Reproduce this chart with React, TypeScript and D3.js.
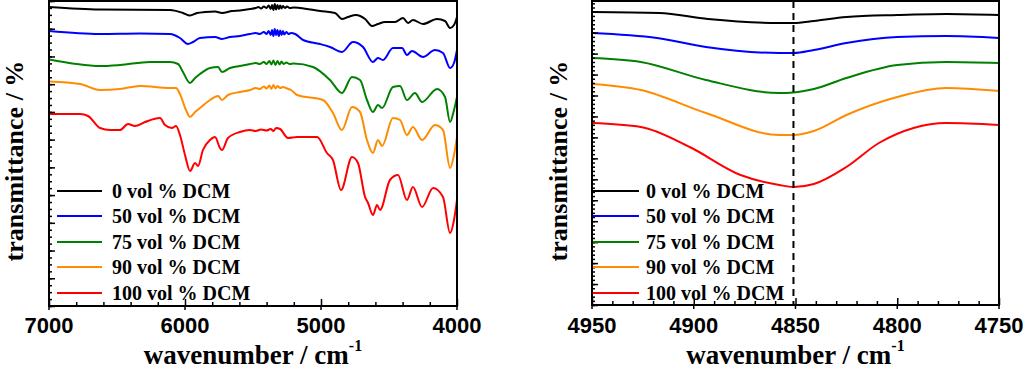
import React, { useRef, useEffect } from 'react';
import * as d3 from 'd3';

// legend + colours
const seriesLabels = ['0 vol % DCM', '50 vol % DCM', '75 vol % DCM', '90 vol % DCM', '100 vol % DCM'];
const seriesColors = ['#000000', '#0000ff', '#008000', '#ff8c00', '#ff0000'];

// full range spectra [wavenumber, offset transmittance]
const wideBlack: [number, number][] = [
  [7000, 299], [6625, 296.5], [6110, 296], [6015, 293], [5963, 290.5], [5912, 293], [5853, 294],
  [5779, 294.5], [5728, 293], [5654, 295], [5596, 295.5], [5522, 297],
  [5480, 298], [5460, 299], [5440, 297.5], [5420, 299.5], [5400, 298], [5385, 300.5], [5370, 297],
  [5360, 301], [5350, 296], [5340, 302], [5330, 296.5], [5320, 301], [5310, 297], [5300, 300.5],
  [5290, 297.5], [5280, 300], [5265, 298], [5250, 299.5], [5230, 298], [5200, 298.5],
  [5154, 298], [5007, 295], [4897, 293], [4846, 287], [4801, 289], [4743, 291], [4676, 287],
  [4625, 280], [4581, 282], [4529, 284], [4456, 284], [4397, 288], [4360, 283], [4324, 286],
  [4250, 282], [4147, 287], [4088, 285], [4051, 278], [4022, 281], [4000, 289],
];
const wideBlue: [number, number][] = [
  [7000, 275], [6625, 272], [6331, 272.5], [6110, 272], [6037, 268], [5978, 262], [5941, 264],
  [5890, 268], [5779, 269], [5728, 267], [5669, 269], [5596, 270], [5522, 272],
  [5480, 273], [5450, 272], [5420, 274], [5400, 272], [5385, 275], [5370, 271], [5360, 276],
  [5350, 270], [5340, 277], [5330, 271], [5320, 276], [5310, 270], [5300, 275.5], [5290, 271],
  [5280, 275], [5270, 271.5], [5255, 274], [5240, 272], [5220, 273], [5190, 272],
  [5132, 266], [5007, 262], [4934, 259], [4846, 254], [4765, 264], [4691, 259], [4618, 244],
  [4581, 248], [4544, 246], [4471, 258], [4404, 258], [4368, 251], [4331, 255], [4250, 249],
  [4162, 256], [4103, 253], [4051, 238], [4022, 243], [4000, 256],
];
const wideGreen: [number, number][] = [
  [7000, 246.5], [6625, 240], [6478, 241], [6257, 244], [6110, 244], [6051, 242], [6015, 234],
  [5963, 223], [5926, 228], [5890, 232], [5816, 238], [5757, 239], [5728, 234], [5669, 238],
  [5596, 240], [5520, 242], [5480, 243], [5450, 242], [5420, 244], [5400, 242], [5380, 245],
  [5365, 241.5], [5350, 245.5], [5335, 241], [5320, 245], [5305, 241.5], [5290, 244.5],
  [5275, 242], [5255, 243.5], [5230, 242], [5200, 242.5],
  [5059, 239], [4934, 226], [4846, 213], [4772, 229], [4713, 226], [4662, 206], [4618, 194],
  [4581, 201], [4551, 198], [4471, 219], [4419, 220], [4368, 206], [4309, 213], [4257, 204],
  [4147, 217], [4088, 209], [4051, 184], [4022, 196], [4000, 209],
];
const wideOrange: [number, number][] = [
  [7000, 224.5], [6772, 222], [6625, 216], [6478, 217], [6331, 220], [6110, 218], [6066, 218],
  [6037, 212], [5993, 196], [5963, 189], [5926, 194], [5890, 198], [5816, 206], [5757, 210],
  [5728, 206], [5684, 211], [5596, 214], [5520, 216], [5480, 218], [5450, 217], [5420, 219.5],
  [5400, 217.5], [5380, 220.5], [5365, 217], [5350, 221], [5335, 217.5], [5320, 220],
  [5300, 218], [5280, 219], [5250, 217.5], [5220, 216],
  [5176, 211], [4985, 206], [4912, 193], [4846, 176], [4772, 199], [4713, 194], [4662, 166],
  [4618, 153], [4581, 166], [4551, 160], [4471, 188], [4419, 186], [4368, 171], [4324, 179],
  [4257, 166], [4162, 181], [4103, 176], [4051, 138], [4022, 151], [4000, 169],
];
const wideRed: [number, number][] = [
  [7000, 192], [6772, 192], [6713, 190], [6625, 178], [6551, 176], [6478, 176], [6419, 182],
  [6368, 180], [6294, 184], [6184, 188], [6147, 181], [6096, 178], [6066, 180], [6037, 171],
  [6000, 151], [5963, 135], [5926, 143], [5904, 140], [5868, 156], [5816, 166], [5779, 169],
  [5743, 158], [5728, 156], [5684, 168], [5596, 174], [5522, 176],
  [5480, 175], [5440, 176.5], [5400, 175.5], [5370, 177], [5350, 175], [5330, 178], [5301, 177],
  [5243, 168], [5176, 169], [5029, 169], [4956, 153], [4912, 146], [4853, 116], [4772, 149],
  [4728, 143], [4676, 109], [4654, 103], [4618, 91], [4588, 101], [4566, 96], [4493, 126],
  [4434, 131], [4368, 106], [4324, 119], [4257, 99], [4176, 118], [4103, 109], [4051, 73],
  [4022, 86], [4000, 106],
];

// zoomed region around the 4850 band
const zoomBlack: [number, number][] = [
  [4950, 293], [4917, 292], [4893, 286], [4858, 282], [4851, 282], [4841, 284], [4825, 288],
  [4800, 290], [4776, 291], [4750, 290],
];
const zoomBlue: [number, number][] = [
  [4950, 272], [4918, 267], [4894, 258], [4858, 252], [4851, 252], [4841, 255], [4825, 262],
  [4800, 268], [4776, 269], [4750, 267],
];
const zoomGreen: [number, number][] = [
  [4950, 247], [4926, 243], [4894, 225], [4858, 212], [4851, 212.5], [4841, 216], [4825, 227],
  [4800, 240], [4776, 243], [4750, 242],
];
const zoomOrange: [number, number][] = [
  [4950, 221], [4926, 215], [4894, 192], [4858, 170], [4851, 170], [4841, 174], [4825, 190],
  [4800, 208], [4776, 217], [4750, 214],
];
const zoomRed: [number, number][] = [
  [4950, 182], [4926, 178], [4902, 158], [4877, 130], [4858, 120], [4851, 118], [4841, 121],
  [4825, 138], [4809, 162], [4792, 177], [4776, 182], [4750, 180],
];

const wideSeries = [wideBlack, wideBlue, wideGreen, wideOrange, wideRed];
const zoomSeries = [zoomBlack, zoomBlue, zoomGreen, zoomOrange, zoomRed];

const wideTicks = [7000, 6000, 5000, 4000];
const zoomTicks = [4950, 4900, 4850, 4800, 4750];
const bandPosition = 4851;

const serif = '"Liberation Serif", "Times New Roman", serif';
const sans = '"Liberation Sans", Arial, sans-serif';

type Panel = {
  id: string;
  left: number;
  right: number;
  top: number;
  bottom: number;
  xDomain: [number, number];
  yMax: number;
  yStep: number;
  ySub: number;
  xMinor: number;
  ticks: number[];
  series: [number, number][][];
  legendLine: [number, number];
  legendText: number;
  yTitleX: number;
  band?: number;
};

const panels: Panel[] = [
  {
    id: 'wide', left: 49, right: 457, top: 1, bottom: 306,
    xDomain: [7000, 4000], yMax: 305, yStep: 305 / 11, ySub: 4, xMinor: 200,
    ticks: wideTicks, series: wideSeries, legendLine: [57, 102], legendText: 112, yTitleX: 23,
  },
  {
    id: 'zoom', left: 592, right: 999, top: 1, bottom: 305,
    xDomain: [4950, 4750], yMax: 304, yStep: 20.95, ySub: 5, xMinor: 10,
    ticks: zoomTicks, series: zoomSeries, legendLine: [593, 639], legendText: 646, yTitleX: 567,
    band: bandPosition,
  },
];

const legendRows = [191, 216, 242, 267, 293];

const App = () => {
  const svgRef = useRef<SVGSVGElement>(null);

  useEffect(() => {
    const svg = d3.select(svgRef.current);
    svg.selectAll('*').remove();

    panels.forEach(p => {
      const x = d3.scaleLinear().domain(p.xDomain).range([p.left, p.right]);
      const y = d3.scaleLinear().domain([0, p.yMax]).range([p.bottom, p.top]);
      const g = svg.append('g');

      g.append('clipPath').attr('id', `clip-${p.id}`)
        .append('rect')
        .attr('x', p.left).attr('y', p.top)
        .attr('width', p.right - p.left).attr('height', p.bottom - p.top);

      // spectra
      const line = d3.line<[number, number]>()
        .x(d => x(d[0]))
        .y(d => y(d[1]))
        .curve(d3.curveMonotoneX);

      g.append('g').attr('clip-path', `url(#clip-${p.id})`)
        .selectAll('path')
        .data(p.series)
        .enter().append('path')
        .attr('d', d => line(d))
        .attr('fill', 'none')
        .attr('stroke', (_, i) => seriesColors[i])
        .attr('stroke-width', 2)
        .attr('stroke-linejoin', 'round');

      if (p.band !== undefined) {
        g.append('line')
          .attr('x1', x(p.band)).attr('x2', x(p.band))
          .attr('y1', p.top).attr('y2', p.bottom)
          .attr('stroke', '#000').attr('stroke-width', 2)
          .attr('stroke-dasharray', '7,5');
      }

      // minor / major ticks, pointing inward
      const [xa, xb] = p.xDomain;
      const xMinorTicks = d3.range(Math.min(xa, xb), Math.max(xa, xb) + 0.01, p.xMinor)
        .filter(v => !p.ticks.includes(v));
      g.append('g')
        .attr('transform', `translate(0,${p.bottom})`)
        .call(d3.axisBottom(x).tickValues(xMinorTicks).tickSize(-4).tickFormat(() => ''))
        .call(a => a.select('.domain').remove());
      g.append('g')
        .attr('transform', `translate(0,${p.bottom})`)
        .call(d3.axisBottom(x).tickValues(p.ticks).tickSizeInner(-7).tickSizeOuter(0).tickFormat(() => ''))
        .call(a => a.select('.domain').remove());
      g.selectAll('.out-tick')
        .data(p.ticks)
        .enter().append('line')
        .attr('x1', d => x(d)).attr('x2', d => x(d))
        .attr('y1', p.bottom).attr('y2', p.bottom + 4)
        .attr('stroke', '#000').attr('stroke-width', 1.5);

      const yMajor = d3.range(0, p.yMax + 0.01, p.yStep);
      const yMinor = d3.range(0, p.yMax + 0.01, p.yStep / p.ySub);
      g.append('g')
        .attr('transform', `translate(${p.left},0)`)
        .call(d3.axisLeft(y).tickValues(yMinor).tickSize(-3).tickFormat(() => ''))
        .call(a => a.select('.domain').remove());
      g.append('g')
        .attr('transform', `translate(${p.left},0)`)
        .call(d3.axisLeft(y).tickValues(yMajor).tickSize(-6).tickFormat(() => ''))
        .call(a => a.select('.domain').remove());
      g.selectAll('.tick line').attr('stroke-width', 1.5);

      // frame
      g.append('rect')
        .attr('x', p.left).attr('y', p.top)
        .attr('width', p.right - p.left).attr('height', p.bottom - p.top)
        .attr('fill', 'none').attr('stroke', '#000').attr('stroke-width', 2);

      // tick labels
      g.selectAll('.xlab')
        .data(p.ticks)
        .enter().append('text')
        .attr('x', d => x(d)).attr('y', 333)
        .attr('text-anchor', 'middle')
        .attr('font-family', sans).attr('font-weight', 'bold').attr('font-size', 22)
        .text(d => d);

      // legend
      const leg = g.append('g');
      seriesLabels.forEach((lab, i) => {
        leg.append('line')
          .attr('x1', p.legendLine[0]).attr('x2', p.legendLine[1])
          .attr('y1', legendRows[i]).attr('y2', legendRows[i])
          .attr('stroke', seriesColors[i]).attr('stroke-width', 2);
        leg.append('text')
          .attr('x', p.legendText).attr('y', legendRows[i] + 7)
          .attr('font-family', serif).attr('font-weight', 'bold').attr('font-size', 20)
          .text(lab);
      });

      // axis titles
      g.append('text')
        .attr('transform', `translate(${p.yTitleX},161) rotate(-90)`)
        .attr('text-anchor', 'middle')
        .attr('font-family', serif).attr('font-weight', 'bold').attr('font-size', 26)
        .text('transmittance / %');

      const xt = g.append('text')
        .attr('x', (p.left + p.right) / 2).attr('y', 364)
        .attr('text-anchor', 'middle')
        .attr('font-family', serif).attr('font-weight', 'bold').attr('font-size', 27);
      xt.append('tspan').text('wavenumber / cm');
      xt.append('tspan').attr('font-size', 16).attr('dy', -13).text('-1');
    });
  }, []);

  return (
    <svg ref={svgRef} width="1024" height="371"
      style={{ position: 'absolute', left: 0, top: 0, background: '#fff' }} />
  );
};

export default App;
